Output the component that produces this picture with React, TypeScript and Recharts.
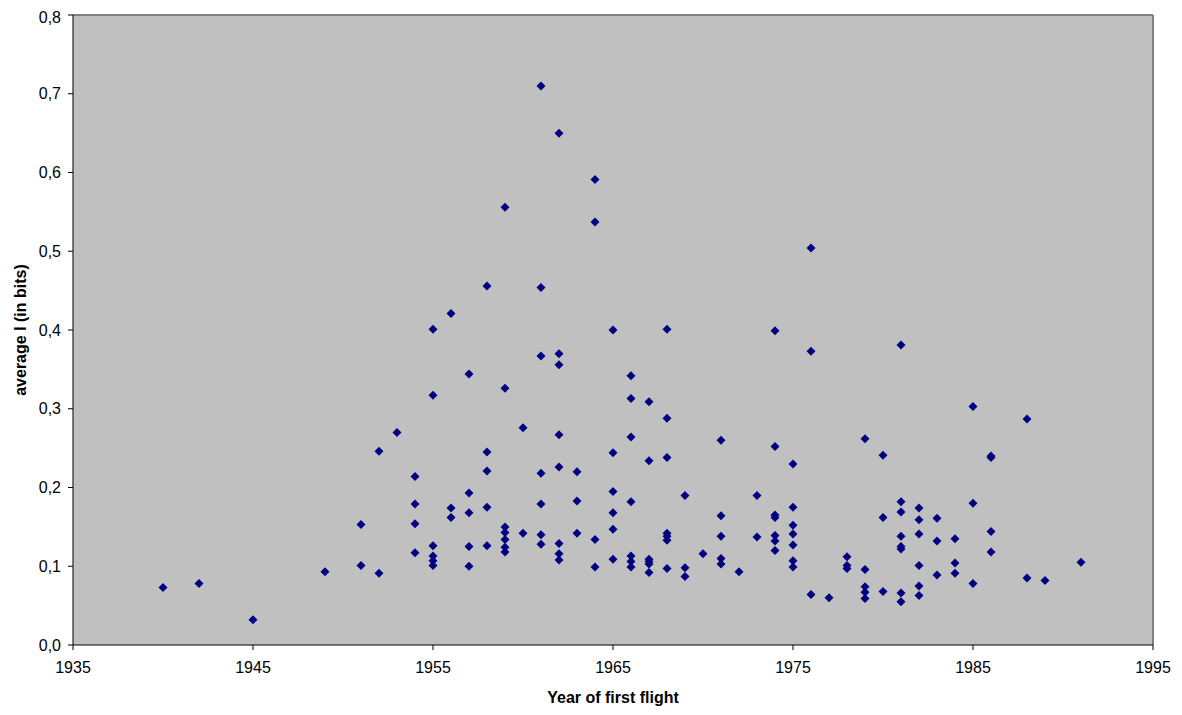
import { ScatterChart, Scatter, XAxis, YAxis, CartesianGrid, ReferenceLine } from 'recharts';

// years of first flight, and the average I values read for each one
const flightYears = [
  1940, 1942, 1945, 1949, 1951, 1952, 1953, 1954, 1955, 1956, 1957, 1958, 1959, 1960,
  1961, 1962, 1963, 1964, 1965, 1966, 1967, 1968, 1969, 1970, 1971, 1972, 1973, 1974,
  1975, 1976, 1977, 1978, 1979, 1980, 1981, 1982, 1983, 1984, 1985, 1986, 1988, 1989, 1991,
];

const avgInfoByYear = [
  [0.073],
  [0.078],
  [0.032],
  [0.093],
  [0.153, 0.101],
  [0.246, 0.091],
  [0.27],
  [0.214, 0.179, 0.154, 0.117],
  [0.401, 0.317, 0.126, 0.113, 0.107, 0.101],
  [0.421, 0.174, 0.162],
  [0.344, 0.193, 0.168, 0.125, 0.1],
  [0.456, 0.245, 0.221, 0.175, 0.126],
  [0.556, 0.326, 0.15, 0.143, 0.134, 0.124, 0.118],
  [0.276, 0.142],
  [0.71, 0.454, 0.367, 0.218, 0.179, 0.14, 0.128],
  [0.65, 0.37, 0.356, 0.267, 0.226, 0.129, 0.116, 0.108],
  [0.22, 0.183, 0.142],
  [0.591, 0.537, 0.134, 0.099],
  [0.4, 0.244, 0.195, 0.168, 0.147, 0.109],
  [0.342, 0.313, 0.264, 0.182, 0.113, 0.106, 0.099],
  [0.309, 0.234, 0.109, 0.106, 0.103, 0.092],
  [0.401, 0.288, 0.238, 0.142, 0.138, 0.133, 0.097],
  [0.19, 0.098, 0.087],
  [0.116],
  [0.26, 0.164, 0.138, 0.11, 0.103],
  [0.093],
  [0.19, 0.137],
  [0.399, 0.252, 0.165, 0.162, 0.139, 0.132, 0.12],
  [0.23, 0.175, 0.152, 0.141, 0.127, 0.107, 0.099],
  [0.504, 0.373, 0.064],
  [0.06],
  [0.112, 0.101, 0.097],
  [0.262, 0.096, 0.074, 0.067, 0.059],
  [0.241, 0.162, 0.068],
  [0.381, 0.182, 0.169, 0.138, 0.125, 0.122, 0.066, 0.055],
  [0.174, 0.159, 0.141, 0.101, 0.075, 0.063],
  [0.161, 0.132, 0.089],
  [0.135, 0.104, 0.091],
  [0.303, 0.18, 0.078],
  [0.24, 0.238, 0.144, 0.118],
  [0.287, 0.085],
  [0.082],
  [0.105],
];

const xTicks = [1935, 1945, 1955, 1965, 1975, 1985, 1995];
const yTicks = [0, 0.1, 0.2, 0.3, 0.4, 0.5, 0.6, 0.7, 0.8];

const points = flightYears.flatMap((year, i) =>
  avgInfoByYear[i].map(v => ({ year, avgI: v }))
);

const font = '"Liberation Sans", Arial, sans-serif';

// Excel style diamond marker
const Diamond = (props: any) => {
  const { cx, cy } = props;
  const r = 4.5;
  return (
    <polygon
      points={`${cx},${cy - r} ${cx + r},${cy} ${cx},${cy + r} ${cx - r},${cy}`}
      fill="#000080"
    />
  );
};

export default function App() {
  return (
    <ScatterChart
      width={1166}
      height={700}
      margin={{ top: 7, right: 21, left: 0, bottom: 0 }}
      style={{ fontFamily: font }}
    >
      <CartesianGrid fill="#C0C0C0" horizontal={false} vertical={false} />
      <ReferenceLine y={0.8} stroke="#808080" strokeWidth={2} />
      <ReferenceLine x={1995} stroke="#808080" strokeWidth={2} />
      <XAxis
        type="number"
        dataKey="year"
        domain={[1935, 1995]}
        ticks={xTicks}
        height={63}
        tickSize={5}
        tickMargin={12}
        axisLine={{ stroke: '#000' }}
        tickLine={{ stroke: '#000' }}
        tick={{ fill: '#000', fontSize: 16, fontFamily: font }}
        label={{
          value: 'Year of first flight',
          position: 'insideBottom',
          offset: 5,
          style: { fill: '#000', fontSize: 16, fontWeight: 'bold', fontFamily: font },
        }}
      />
      <YAxis
        type="number"
        dataKey="avgI"
        domain={[0, 0.8]}
        ticks={yTicks}
        width={65}
        tickSize={5}
        tickMargin={7}
        axisLine={{ stroke: '#000' }}
        tickLine={{ stroke: '#000' }}
        tick={{ fill: '#000', fontSize: 16, fontFamily: font }}
        tickFormatter={(v: number) => v.toFixed(1).replace('.', ',')}
        label={{
          value: 'average I (in bits)',
          angle: -90,
          position: 'insideLeft',
          offset: 12,
          style: { fill: '#000', fontSize: 16, fontWeight: 'bold', fontFamily: font, textAnchor: 'middle' },
        }}
      />
      <Scatter data={points} shape={<Diamond />} isAnimationActive={false} />
    </ScatterChart>
  );
}
